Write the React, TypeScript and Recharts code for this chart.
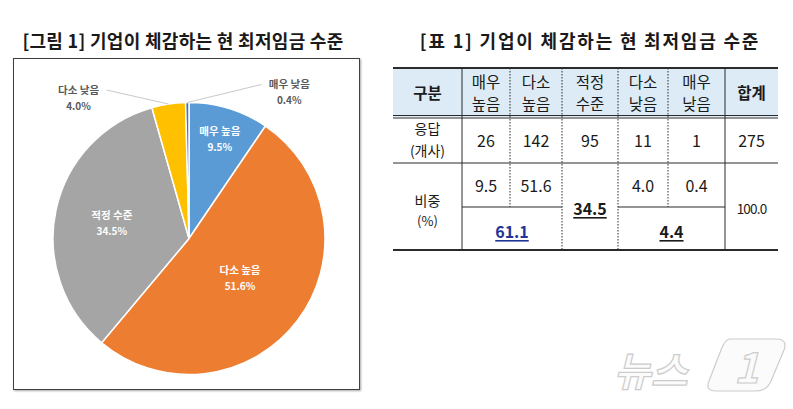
import React from "react";
import { PieChart, Pie, Cell } from "recharts";

// survey: how companies feel about the current minimum wage
const categories = ["매우 높음", "다소 높음", "적정 수준", "다소 낮음", "매우 낮음"];
const responses = [26, 142, 95, 11, 1];
const shares = [9.5, 51.6, 34.5, 4.0, 0.4];
const groupShares = [61.1, 34.5, 4.4];
const totalResponses = 275;
const totalShare = 100.0;

const PIE_COLORS = ["#5B9BD5", "#ED7D31", "#A5A5A5", "#FFC000", "#4472C4"];

// where each slice label sits: inside at a fraction of the radius, or outside with an offset
const LABEL_PLACE = [
  { inside: true, r: 0.77 },
  { inside: true, r: 0.47 },
  { inside: true, r: 0.58 },
  { inside: false, dx: -90, dy: -15 },
  { inside: false, dx: 102, dy: -19 },
];

const FONT = "'Noto Sans CJK KR', 'Noto Sans', sans-serif";
const RAD = Math.PI / 180;

// table grid
const COL_X = [393, 462, 510, 562, 618, 668, 725, 778];
const ROW_Y = [68, 117, 163, 207, 250];

const pieData = categories.map((name, i) => ({ name, value: shares[i] }));

function renderLabel(props: any) {
  const { cx, cy, midAngle, outerRadius, index } = props;
  const place = LABEL_PLACE[index];
  const cos = Math.cos(-midAngle * RAD);
  const sin = Math.sin(-midAngle * RAD);
  const name = categories[index];
  const pct = `${shares[index].toFixed(1)}%`;

  if (place.inside) {
    const r = outerRadius * place.r!;
    const x = cx + r * cos;
    const y = cy + r * sin;
    return (
      <g key={`lbl-${index}`}>
        <text x={x} y={y - 8} textAnchor="middle" dominantBaseline="central" fill="#fff" fontSize={10.5} fontWeight={700} fontFamily={FONT}>
          {name}
        </text>
        <text x={x} y={y + 8} textAnchor="middle" dominantBaseline="central" fill="#fff" fontSize={10} fontWeight={700} fontFamily={FONT}>
          {pct}
        </text>
      </g>
    );
  }

  const ex = cx + outerRadius * cos;
  const ey = cy + outerRadius * sin;
  const lx = ex + place.dx!;
  const ly = ey + place.dy!;
  const startX = place.dx! < 0 ? lx + 28 : lx - 28;
  return (
    <g key={`lbl-${index}`}>
      <line x1={startX} y1={ly + 1} x2={ex} y2={ey} stroke="#C9C9C9" strokeWidth={1} />
      <text x={lx} y={ly} textAnchor="middle" dominantBaseline="central" fill="#595959" fontSize={10.5} fontWeight={700} fontFamily={FONT}>
        {name}
      </text>
      <text x={lx} y={ly + 16} textAnchor="middle" dominantBaseline="central" fill="#595959" fontSize={10} fontWeight={700} fontFamily={FONT}>
        {pct}
      </text>
    </g>
  );
}

function ShareTable() {
  const colCenter = (i: number) => (COL_X[i] + COL_X[i + 1]) / 2;
  const heads = categories.map((c) => c.split(" "));
  const line = "#2b2b2b";
  const txt = { fontFamily: FONT, fill: "#1a1a1a", textAnchor: "middle" as const, dominantBaseline: "central" as const };
  const under = { textDecoration: "underline" };

  return (
    <svg width={793} height={409} style={{ position: "absolute", left: 0, top: 0 }}>
      <text x={590} y={40} {...txt} fontSize={18} fontWeight={700} letterSpacing={1.8}>
        [표 1] 기업이 체감하는 현 최저임금 수준
      </text>

      <rect x={COL_X[0]} y={ROW_Y[0]} width={COL_X[7] - COL_X[0]} height={ROW_Y[1] - ROW_Y[0]} fill="#DCEBF5" />

      {/* horizontal rules */}
      <line x1={COL_X[0]} x2={COL_X[7]} y1={ROW_Y[0]} y2={ROW_Y[0]} stroke={line} strokeWidth={2.2} />
      <line x1={COL_X[0]} x2={COL_X[7]} y1={ROW_Y[1] - 1.5} y2={ROW_Y[1] - 1.5} stroke={line} strokeWidth={1} />
      <line x1={COL_X[0]} x2={COL_X[7]} y1={ROW_Y[1] + 1} y2={ROW_Y[1] + 1} stroke={line} strokeWidth={1} />
      <line x1={COL_X[0]} x2={COL_X[7]} y1={ROW_Y[2]} y2={ROW_Y[2]} stroke={line} strokeWidth={1} />
      <line x1={COL_X[1]} x2={COL_X[3]} y1={ROW_Y[3]} y2={ROW_Y[3]} stroke={line} strokeWidth={1} />
      <line x1={COL_X[4]} x2={COL_X[6]} y1={ROW_Y[3]} y2={ROW_Y[3]} stroke={line} strokeWidth={1} />
      <line x1={COL_X[0]} x2={COL_X[7]} y1={ROW_Y[4]} y2={ROW_Y[4]} stroke={line} strokeWidth={2.2} />

      {/* vertical rules */}
      <line x1={COL_X[1]} x2={COL_X[1]} y1={ROW_Y[0]} y2={ROW_Y[4]} stroke={line} strokeWidth={1} />
      <line x1={COL_X[6]} x2={COL_X[6]} y1={ROW_Y[0]} y2={ROW_Y[4]} stroke={line} strokeWidth={1} />
      <line x1={COL_X[2]} x2={COL_X[2]} y1={ROW_Y[0]} y2={ROW_Y[3]} stroke={line} strokeWidth={1} strokeDasharray="1.5 1.5" />
      <line x1={COL_X[3]} x2={COL_X[3]} y1={ROW_Y[0]} y2={ROW_Y[4]} stroke={line} strokeWidth={1} strokeDasharray="1.5 1.5" />
      <line x1={COL_X[4]} x2={COL_X[4]} y1={ROW_Y[0]} y2={ROW_Y[4]} stroke={line} strokeWidth={1} strokeDasharray="1.5 1.5" />
      <line x1={COL_X[5]} x2={COL_X[5]} y1={ROW_Y[0]} y2={ROW_Y[3]} stroke={line} strokeWidth={1} strokeDasharray="1.5 1.5" />

      {/* header */}
      <text x={colCenter(0)} y={92} {...txt} fontSize={15.5} fontWeight={700}>구분</text>
      {heads.map((h, i) => (
        <g key={`h-${i}`}>
          <text x={colCenter(i + 1)} y={81} {...txt} fontSize={15.5}>{h[0]}</text>
          <text x={colCenter(i + 1)} y={103} {...txt} fontSize={15.5}>{h[1]}</text>
        </g>
      ))}
      <text x={colCenter(6)} y={92} {...txt} fontSize={15.5} fontWeight={700}>합계</text>

      {/* responses */}
      <text x={colCenter(0)} y={128} {...txt} fontSize={14}>응답</text>
      <text x={colCenter(0)} y={150} {...txt} fontSize={14}>(개사)</text>
      {responses.map((v, i) => (
        <text key={`r-${i}`} x={colCenter(i + 1)} y={140} {...txt} fontSize={16}>{v}</text>
      ))}
      <text x={colCenter(6)} y={140} {...txt} fontSize={16}>{totalResponses}</text>

      {/* shares */}
      <text x={colCenter(0)} y={200} {...txt} fontSize={14}>비중</text>
      <text x={colCenter(0)} y={220} {...txt} fontSize={13}>(%)</text>
      {shares.map((v, i) =>
        i === 2 ? null : (
          <text key={`s-${i}`} x={colCenter(i + 1)} y={185} {...txt} fontSize={16}>{v.toFixed(1)}</text>
        )
      )}
      <text x={colCenter(3)} y={208} {...txt} fontSize={16} fontWeight={700} style={under}>{groupShares[1].toFixed(1)}</text>
      <text x={colCenter(6)} y={208} {...txt} fontSize={13.5} letterSpacing={-0.8}>{totalShare.toFixed(1)}</text>
      <text x={(COL_X[1] + COL_X[3]) / 2} y={231} {...txt} fill="#22349A" fontSize={16} fontWeight={700} style={under}>
        {groupShares[0].toFixed(1)}
      </text>
      <text x={(COL_X[4] + COL_X[6]) / 2} y={231} {...txt} fontSize={16} fontWeight={700} style={under}>
        {groupShares[2].toFixed(1)}
      </text>

      {/* watermark */}
      <g opacity={0.85}>
        <text x={614} y={386} fontFamily={FONT} fontSize={40} fontWeight={700} fontStyle="italic" fill="#fbfbfb" stroke="#c4c4c4" strokeWidth={1.2}>
          뉴스
        </text>
        <path d="M730 339 L776 339 Q788 339 784 350 L771 381 Q767 391 755 391 L716 391 Q705 391 709 381 L721 350 Q725 339 730 339 Z" fill="#fbfbfb" stroke="#c4c4c4" strokeWidth={1.2} />
        <text x={734} y={383} fontFamily={FONT} fontSize={42} fontWeight={700} fontStyle="italic" fill="#fbfbfb" stroke="#c4c4c4" strokeWidth={1.2}>
          1
        </text>
      </g>
    </svg>
  );
}

export default function App() {
  return (
    <div style={{ position: "absolute", left: 0, top: 0, width: 793, height: 409, background: "#fff", overflow: "hidden" }}>
      <ShareTable />
      <div style={{ position: "absolute", left: 0, top: 28, width: 366, textAlign: "center", fontFamily: FONT, fontSize: 18, fontWeight: 700, color: "#1a1a1a", lineHeight: "24px", letterSpacing: 0.3, whiteSpace: "nowrap" }}>
        [그림 1] 기업이 체감하는 현 최저임금 수준
      </div>
      <div
        style={{
          position: "absolute",
          left: 13,
          top: 58,
          width: 347,
          height: 332,
          boxSizing: "border-box",
          border: "1.5px solid #3f3f3f",
          boxShadow: "1px 1px 2px rgba(0,0,0,0.35)",
          background: "#fff",
        }}
      >
        <PieChart width={344} height={329}>
          <Pie
            data={pieData}
            dataKey="value"
            nameKey="name"
            cx={170}
            cy={174.5}
            outerRadius={136}
            startAngle={90}
            endAngle={-270}
            stroke="#fff"
            strokeWidth={1.5}
            label={renderLabel}
            labelLine={false}
            isAnimationActive={false}
          >
            {pieData.map((_, i) => (
              <Cell key={`cell-${i}`} fill={PIE_COLORS[i]} />
            ))}
          </Pie>
        </PieChart>
      </div>
    </div>
  );
}
